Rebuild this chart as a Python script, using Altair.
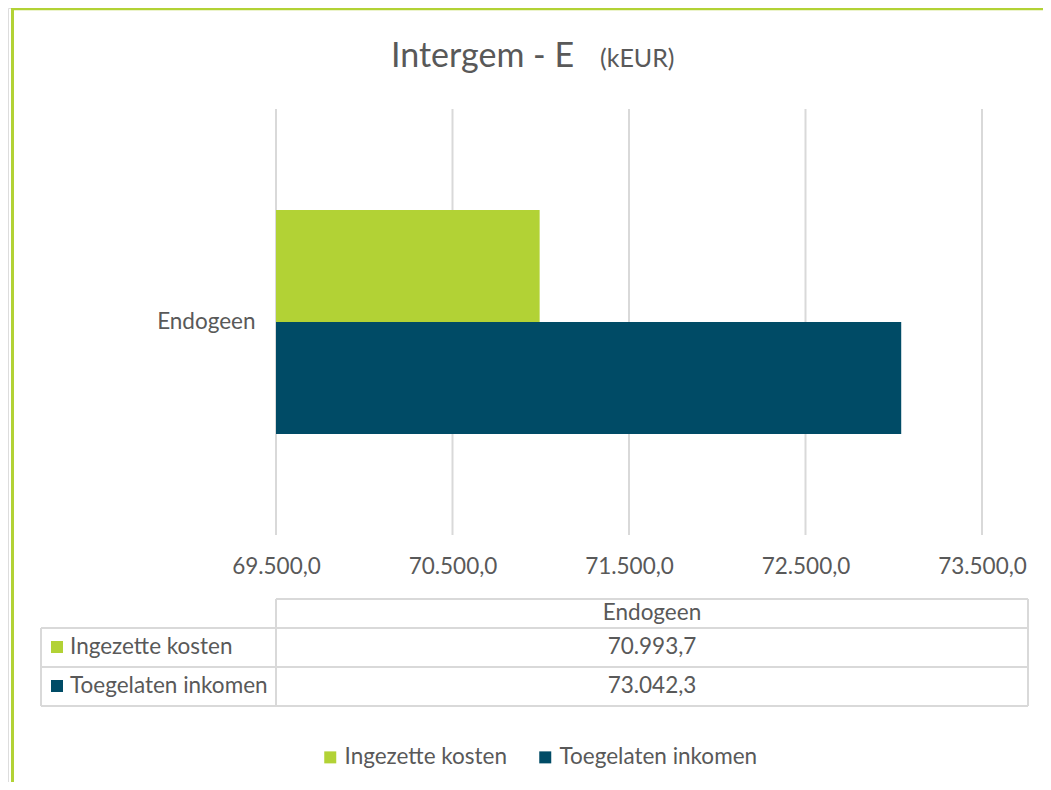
import altair as alt
import pandas as pd

# ---- data ----
categories = ["Endogeen"]
series = ["Ingezette kosten", "Toegelaten inkomen"]
values = [70993.7, 73042.3]
tick_values = [69500, 70500, 71500, 72500, 73500]
colors = ["#b2d235", "#004b66"]
title_main = "Intergem - E"
title_unit = "(kEUR)"

FONT = "Lato"
TXT = "#595959"
LINE = "#d9d9d9"
FS = 22.5

W, H = 1035, 774

df = pd.DataFrame({
    "cat": categories * len(series),
    "series": series,
    "value": values,
    "base": [tick_values[0]] * len(series),
})
ticks_df = pd.DataFrame({"t": tick_values})
cat_df = pd.DataFrame({"cat": categories})
one = pd.DataFrame({"a": [0]})

x_scale = alt.Scale(domain=[tick_values[0], tick_values[-1]], range=[268, 974], nice=False, zero=False)
color_scale = alt.Scale(domain=series, range=colors)
x_axis = alt.Axis(values=tick_values, format=",.1f", orient="bottom", offset=-227,
                  domain=False, ticks=False, grid=False, labelFont=FONT, labelFontSize=FS,
                  labelColor=TXT, labelPadding=0, title=None, labelBaseline="top",
                  labelFlush=False, labelOverlap=False)
legend = alt.Legend(orient="none", legendX=311, legendY=738, direction="horizontal", title=None,
                    symbolType="square", symbolSize=144, symbolStrokeWidth=0, symbolOpacity=1,
                    labelFont=FONT, labelFontSize=FS, labelColor=TXT, labelOffset=3,
                    labelLimit=0, columnPadding=26, padding=0)

grid = alt.Chart(ticks_df).mark_rule(color=LINE, strokeWidth=2).encode(
    x=alt.X("t:Q", scale=x_scale, axis=x_axis),
    y=alt.value(101), y2=alt.value(527),
)

bars = alt.Chart(df).mark_bar().encode(
    x=alt.X("value:Q", scale=x_scale, axis=x_axis),
    x2="base:Q",
    y=alt.Y("cat:N", scale=alt.Scale(range=[101, 527], paddingInner=0, paddingOuter=0.451),
            axis=alt.Axis(orient="left", offset=-268, domain=False, ticks=False, grid=False,
                          labelFont=FONT, labelFontSize=FS, labelColor=TXT, labelPadding=21,
                          title=None)),
    yOffset=alt.YOffset("series:N", scale=alt.Scale(paddingInner=0, paddingOuter=0)),
    color=alt.Color("series:N", scale=color_scale, legend=legend),
)

def hrule(y, x1, x2):
    return alt.Chart(one).mark_rule(color=LINE, strokeWidth=2).encode(
        x=alt.value(x1), x2=alt.value(x2), y=alt.value(y))

def vrule(x, y1, y2):
    return alt.Chart(one).mark_rule(color=LINE, strokeWidth=2).encode(
        x=alt.value(x), y=alt.value(y1), y2=alt.value(y2))

table_lines = [
    hrule(591, 268, 1020), hrule(620, 33, 1020), hrule(659, 33, 1020), hrule(698, 33, 1020),
    vrule(33, 620, 698), vrule(268, 591, 698), vrule(1020, 591, 698),
]

row_y = alt.Y("series:N", scale=alt.Scale(type="point", range=[639, 678], padding=0), axis=None)

header = alt.Chart(cat_df).mark_text(font=FONT, fontSize=FS, color=TXT, align="center", baseline="middle").encode(
    x=alt.value(644), y=alt.value(605), text="cat:N")
row_labels = alt.Chart(df).mark_text(font=FONT, fontSize=FS, color=TXT, align="left", baseline="middle").encode(
    x=alt.value(62), y=row_y, text="series:N")
swatches = alt.Chart(df).mark_square(size=144, opacity=1).encode(
    x=alt.value(49), y=row_y, color=alt.Color("series:N", scale=color_scale, legend=legend))
row_values = alt.Chart(df).mark_text(font=FONT, fontSize=FS, color=TXT, align="center", baseline="middle").encode(
    x=alt.value(644), y=row_y, text=alt.Text("value:Q", format=",.1f"))

t1 = alt.Chart(one).mark_text(font=FONT, fontSize=34, color=TXT, align="left", baseline="middle", text=title_main).encode(
    x=alt.value(383), y=alt.value(49))
t2 = alt.Chart(one).mark_text(font=FONT, fontSize=25, color=TXT, align="left", baseline="middle", text=title_unit).encode(
    x=alt.value(592), y=alt.value(51))

border_top = alt.Chart(one).mark_rule(color="#b2d235", strokeWidth=2.5).encode(
    x=alt.value(3), x2=alt.value(W), y=alt.value(1))
border_left = alt.Chart(one).mark_rule(color="#b2d235", strokeWidth=3).encode(
    x=alt.value(4.5), y=alt.value(0), y2=alt.value(H))

chart = alt.layer(
    grid, bars, *table_lines, header, row_labels, swatches, row_values, t1, t2, border_top, border_left
).resolve_scale(y="independent").properties(
    width=W, height=H, padding=0, autosize=alt.AutoSizeParams(type="none"),
    background="white",
).configure_view(stroke=None).configure(
    locale={"number": {"decimal": ",", "thousands": ".", "grouping": [3], "currency": ["", " €"]}}
)

chart.save("out.html", embed_options={"renderer": "svg", "actions": False})
